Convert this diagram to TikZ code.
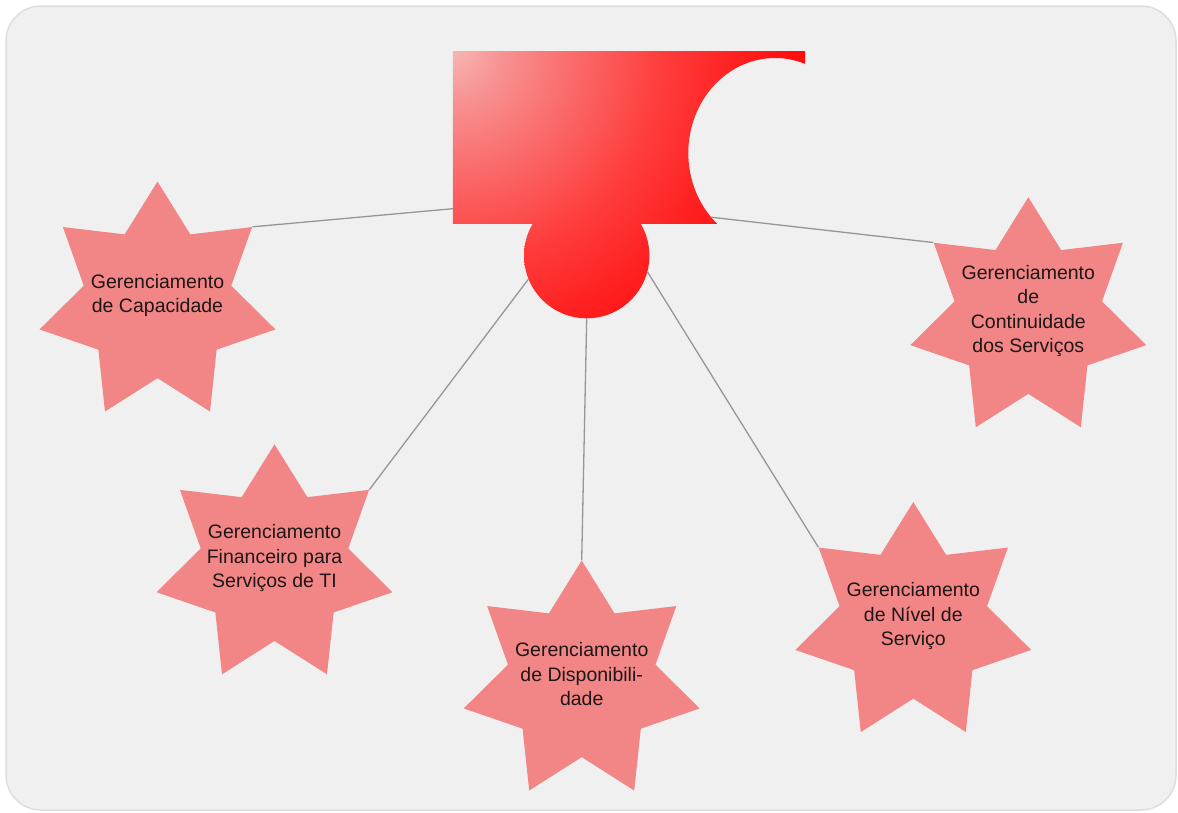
\documentclass[tikz,border=0pt]{standalone}
\usepackage{fontspec}
\setmainfont{Liberation Sans}
\usetikzlibrary{shapes.geometric}

\definecolor{canvas}{RGB}{240,240,240}
\definecolor{canvasedge}{RGB}{222,222,222}
\definecolor{starfill}{RGB}{242,134,134}
\definecolor{linkgray}{RGB}{150,150,150}
\definecolor{inktext}{RGB}{30,22,22}
\definecolor{glowA}{RGB}{246,182,180}
\definecolor{glowB}{RGB}{248,145,145}
\definecolor{glowC}{RGB}{250,110,110}
\definecolor{glowD}{RGB}{255,60,60}
\definecolor{glowE}{RGB}{255,30,30}
\definecolor{glowF}{RGB}{255,8,8}
\definecolor{glowG}{RGB}{255,0,0}
% radial glow: light pink at the centre, pure red towards the rim
\pgfdeclareradialshading{headglow}{\pgfpoint{0bp}{0bp}}{%
  color(0bp)=(glowA); color(3bp)=(glowB); color(6.8bp)=(glowC);
  color(12.5bp)=(glowD); color(17.3bp)=(glowE); color(22bp)=(glowF);
  color(24.4bp)=(glowG); color(50bp)=(glowG)}

\tikzset{
  starbox/.style={star, star points=7, star point ratio=1.6, minimum size=242pt,
    inner sep=0pt, fill=starfill, draw=none},
  startext/.style={font=\fontsize{19.5}{24.5}\selectfont, text=inktext,
    align=center, inner sep=0pt},
  link/.style={draw=linkgray, line width=1.3pt},
  anchorbox/.style={inner sep=0pt, draw=none, fill=none},
}

\begin{document}
\begin{tikzpicture}[x=1pt, y=-1pt]
\useasboundingbox (0,0) rectangle (1178,812);
\fill[white] (0,0) rectangle (1178,812);
\draw[fill=canvas, draw=canvasedge, line width=1.5pt, rounded corners=35pt]
  (6,6) rectangle (1176,810);

% parts of the central emblem
\node[anchorbox, rectangle, minimum width=352pt, minimum height=171pt] (head) at (629,137.5) {};
\node[anchorbox, circle, minimum size=125.4pt] (hub) at (586.7,255.6) {};
\node[anchorbox, ellipse, minimum width=173.4pt, minimum height=190pt] (notch) at (775,153) {};

% block with the elliptic bite on the right
\begin{scope}
  \clip (head.south west) rectangle (head.north east);
  \begin{scope}[even odd rule]
    \clip (0,0) rectangle (1178,812)
      (notch.center) ellipse [x radius=86.7, y radius=95];
    \shade[shading=headglow] (head.north west) circle (420);
  \end{scope}
\end{scope}
% round knob below the block, same glow
\begin{scope}
  \clip (hub.center) circle (62.7);
  \shade[shading=headglow] (head.north west) circle (420);
\end{scope}

% the five processes
\node[starbox, label={[startext, yshift=7pt]center:{Gerenciamento\\de Capacidade}}]
  (s1) at (157.5,302.5) {};
\node[starbox, label={[startext, yshift=7pt]center:{Gerenciamento\\Financeiro para\\Serviços de TI}}]
  (s2) at (274.5,565.3) {};
\node[starbox, label={[startext, yshift=7pt]center:{Gerenciamento\\de Disponibili-\\dade}}]
  (s3) at (581.7,681.5) {};
\node[starbox, label={[startext, yshift=7pt]center:{Gerenciamento\\de Nível de\\Serviço}}]
  (s4) at (913.3,623) {};
\node[starbox, label={[startext, yshift=7pt]center:{Gerenciamento\\de\\Continuidade\\dos Serviços}}]
  (s5) at (1028.3,318.2) {};

% connectors
\draw[link] (head.202) -- (s1.outer point 7);
\draw[link] (hub.202) -- (s2.outer point 7);
\draw[link] (hub.south) -- (s3.outer point 1);
\draw[link] (hub.345) -- (s4.outer point 2);
\draw[link] (notch.225) -- (s5.outer point 2);
\end{tikzpicture}
\end{document}
